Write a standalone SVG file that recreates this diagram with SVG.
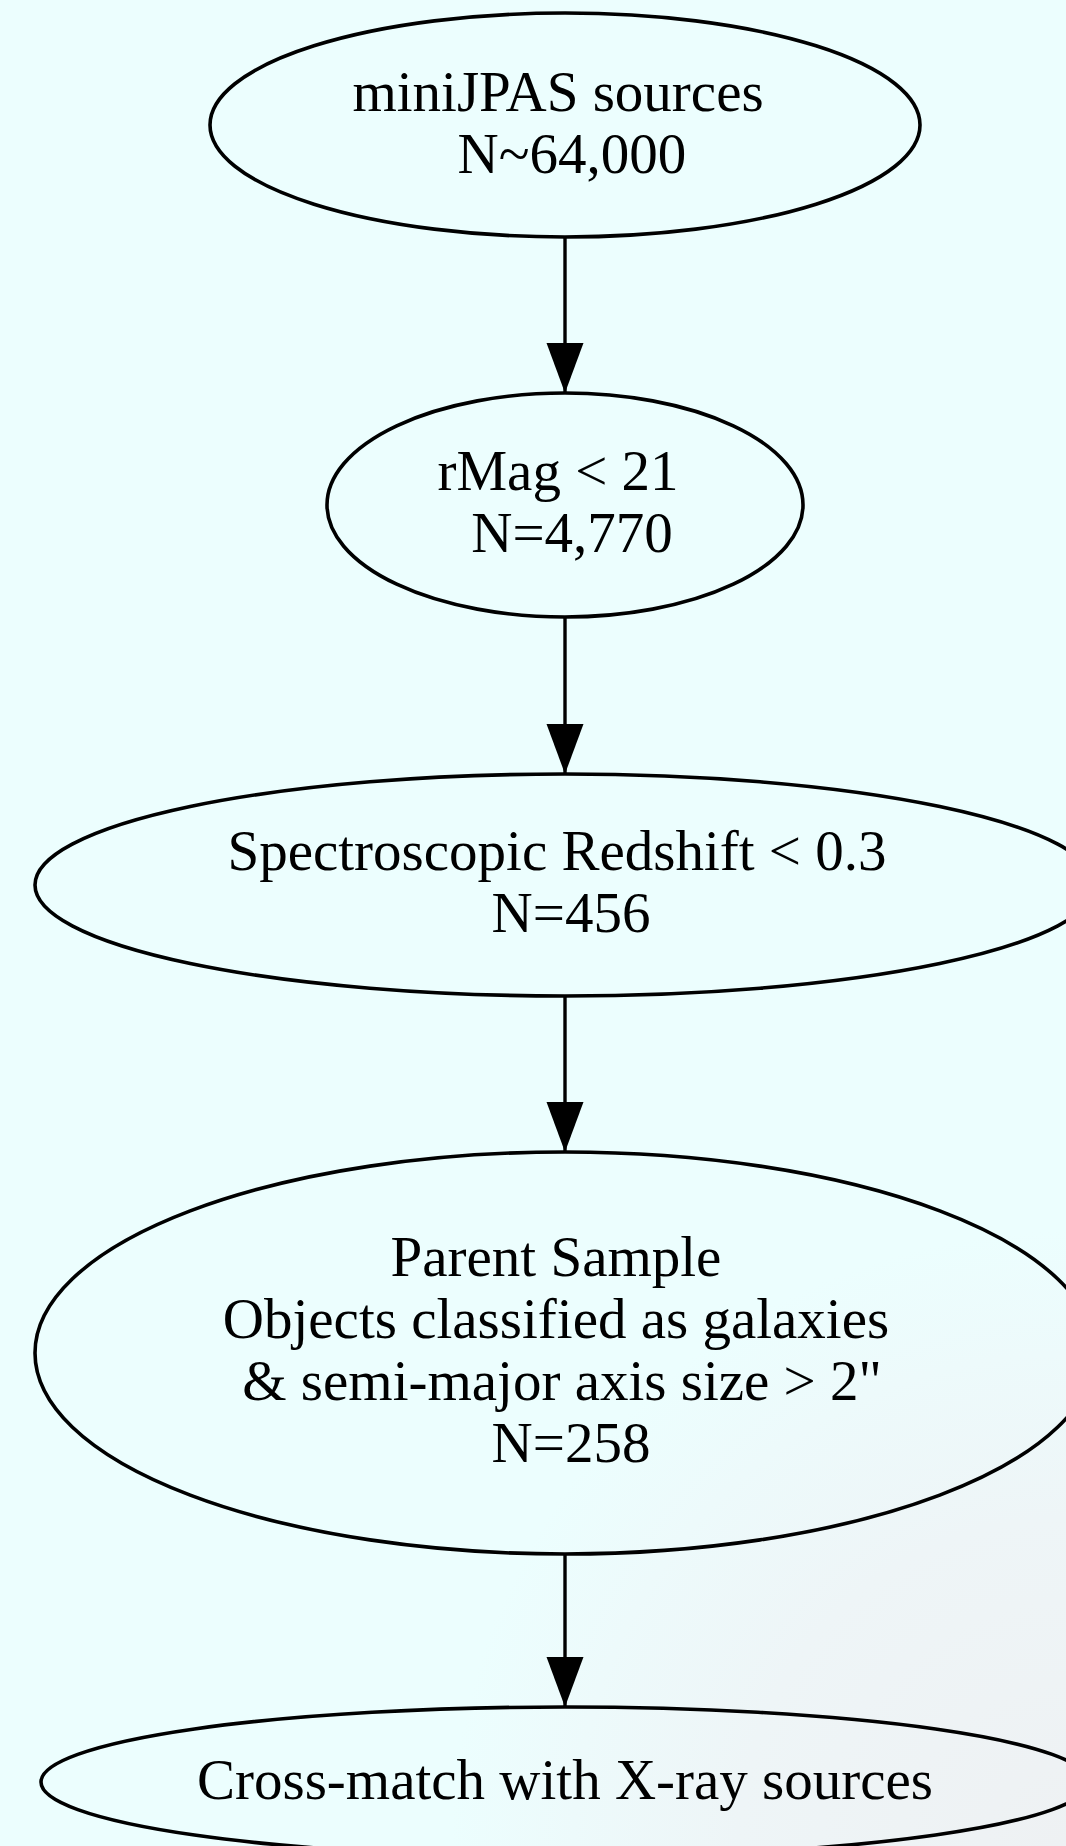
<svg xmlns="http://www.w3.org/2000/svg" width="1066" height="1846" viewBox="0 0 1066 1846">
<defs>
<radialGradient id="bg" gradientUnits="userSpaceOnUse" cx="1066" cy="1846" r="820">
<stop offset="0" stop-color="#EEF1F3"/>
<stop offset="0.4" stop-color="#EEF5F7"/>
<stop offset="0.6" stop-color="#EDFAFB"/>
<stop offset="0.75" stop-color="#ECFEFE"/>
<stop offset="1" stop-color="#ECFEFE"/>
</radialGradient>
<marker id="arr" markerUnits="userSpaceOnUse" markerWidth="40" markerHeight="50" refX="17" refY="46" orient="0" viewBox="0 0 34 46">
<path d="M0,0 L34,0 L17,46 Z" fill="#000"/>
</marker>
<style>
.n ellipse{fill:none;stroke:#000;stroke-width:3.6}
.n text{font-family:"Liberation Serif","Times New Roman",serif;font-size:57px;fill:#000;text-anchor:middle}
#edges line{stroke:#000;stroke-width:3.4;marker-end:url(#arr)}
</style>
</defs>
<rect x="0" y="0" width="1066" height="1846" fill="url(#bg)"/>
<g id="edges">
<line x1="565" y1="238" x2="565" y2="393"/>
<line x1="565" y1="617" x2="565" y2="774"/>
<line x1="565" y1="996" x2="565" y2="1152"/>
<line x1="565" y1="1555" x2="565" y2="1707"/>
</g>
<g id="n1" class="n">
<ellipse cx="565" cy="125" rx="355" ry="112"/>
<text x="558" y="111">miniJPAS sources</text>
<text x="572" y="173">N~64,000</text>
</g>
<g id="n2" class="n">
<ellipse cx="565" cy="505" rx="238" ry="112"/>
<text x="558" y="490">rMag &lt; 21</text>
<text x="572" y="552">N=4,770</text>
</g>
<g id="n3" class="n">
<ellipse cx="565" cy="885" rx="530" ry="111"/>
<text x="557" y="870">Spectroscopic Redshift &lt; 0.3</text>
<text x="571" y="932">N=456</text>
</g>
<g id="n4" class="n">
<ellipse cx="565" cy="1353" rx="530" ry="201"/>
<text x="556" y="1276">Parent Sample</text>
<text x="556" y="1338">Objects classified as galaxies</text>
<text x="562" y="1400">&amp; semi-major axis size &gt; 2"</text>
<text x="571" y="1462">N=258</text>
</g>
<g id="n5" class="n">
<ellipse cx="565" cy="1782" rx="524" ry="75"/>
<text x="565" y="1799">Cross-match with X-ray sources</text>
</g>
</svg>
